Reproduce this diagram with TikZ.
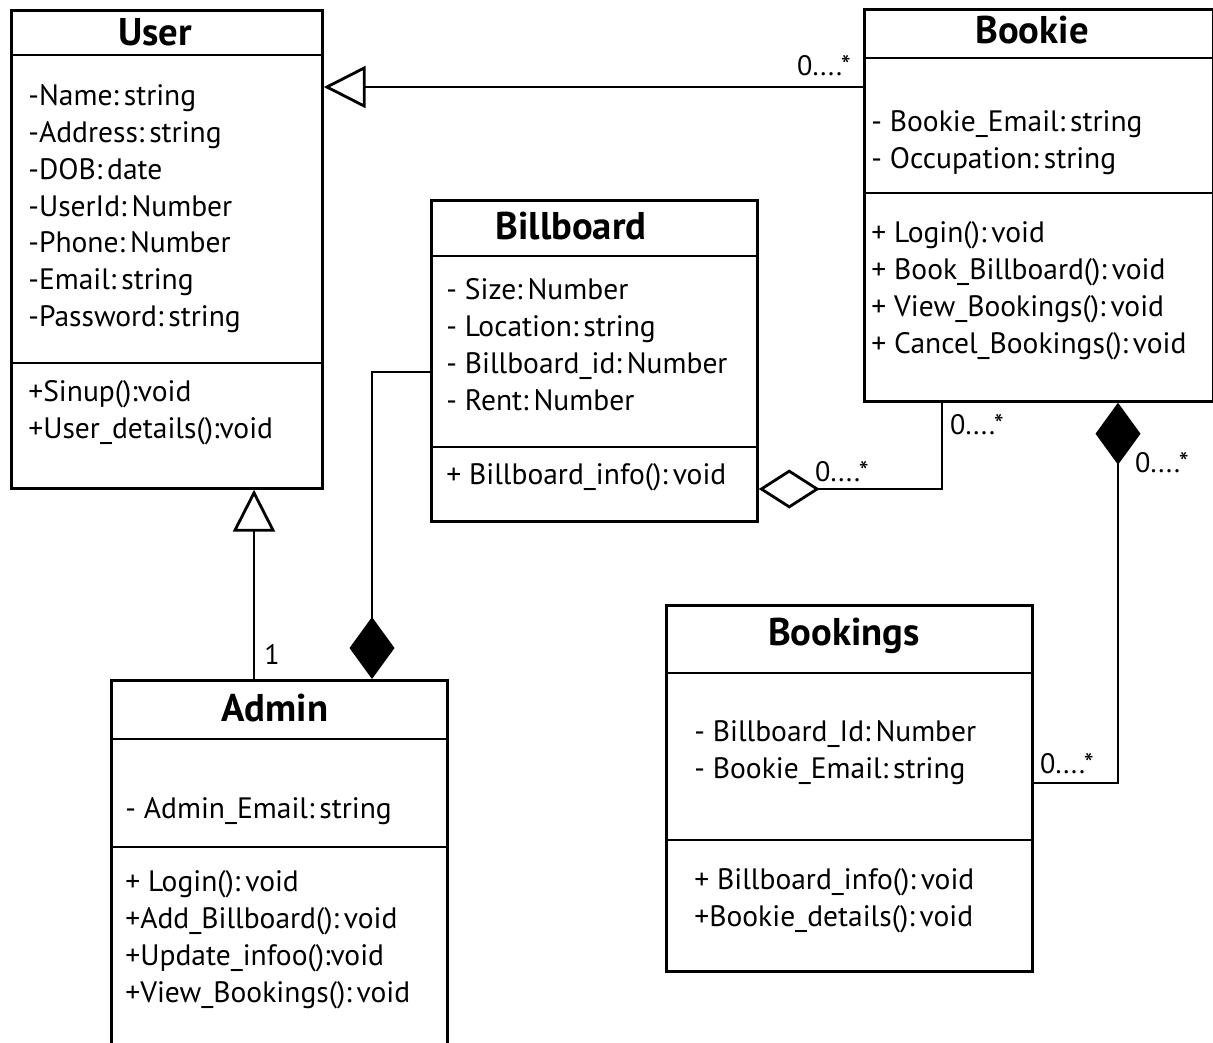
\documentclass[tikz,border=0pt]{standalone}
\usepackage{fontspec}
\setmainfont{PT Sans}
\usetikzlibrary{arrows.meta}

\begin{document}
\begin{tikzpicture}[x=0.02cm, y=-0.02cm, line width=1.6pt,
        classbox/.style={draw, rectangle, anchor=north west, inner sep=0pt},
        classname/.style={font=\fontsize{22}{24}\selectfont\bfseries, inner sep=0pt},
        members/.style={anchor=north west, align=left, inner sep=0pt, font=\fontsize{16.8}{21}\selectfont},
        mult/.style={font=\fontsize{16}{18}\selectfont, inner sep=0pt},
        gen/.style={-{Triangle[open, length=0.84cm, width=0.84cm]}},
        compo/.style={-{Diamond[length=1.24cm, width=0.9cm]}},
        aggr/.style={-{Diamond[open, length=1.22cm, width=0.78cm]}}]
    \useasboundingbox (0,0) rectangle (1213,1042);

    % User class
    \node[classbox, minimum width=6.22cm, minimum height=9.56cm] (user) at (10,9) {};
    \node[classname] (usertitle) at (155,32) {User};
    \draw (user.west |- 0,55) -- (user.east |- 0,55);
    \draw (user.west |- 0,363) -- (user.east |- 0,363);
    \node[members] (userattr) at (27,83) {-Name:\,string\\-Address:\,string\\-DOB:\,date\\-UserId:\,Number\\-Phone:\,Number\\-Email:\,string\\-Password:\,string};
    \node[members] (userops) at (27,379) {+Sinup():void\\+User\_details():void};

    % Bookie class
    \node[classbox, minimum width=6.98cm, minimum height=7.84cm] (bookie) at (863,8) {};
    \node[classname] (bookietitle) at (1032,30) {Bookie};
    \draw (bookie.west |- 0,58) -- (bookie.east |- 0,58);
    \draw (bookie.west |- 0,193) -- (bookie.east |- 0,193);
    \node[members] (bookieattr) at (870,109) {- Bookie\_Email:\,string\\- Occupation:\,string};
    \node[members] (bookieops) at (870,220) {+ Login():\,void\\+ Book\_Billboard():\,void\\+ View\_Bookings():\,void\\+ Cancel\_Bookings():\,void};

    % Billboard class
    \node[classbox, minimum width=6.52cm, minimum height=6.42cm] (billboard) at (430,199) {};
    \node[classname] (billboardtitle) at (571,226) {Billboard};
    \draw (billboard.west |- 0,256) -- (billboard.east |- 0,256);
    \draw (billboard.west |- 0,447) -- (billboard.east |- 0,447);
    \node[members] (billboardattr) at (445,277) {- Size:\,Number\\- Location:\,string\\- Billboard\_id:\,Number\\- Rent:\,Number};
    \node[members] (billboardops) at (445,462) {+ Billboard\_info():\,void};

    % Bookings class
    \node[classbox, minimum width=7.32cm, minimum height=7.32cm] (bookings) at (665,604) {};
    \node[classname] (bookingstitle) at (844,636) {Bookings};
    \draw (bookings.west |- 0,673) -- (bookings.east |- 0,673);
    \draw (bookings.west |- 0,840) -- (bookings.east |- 0,840);
    \node[members] (bookingsattr) at (693,719) {- Billboard\_Id:\,Number\\- Bookie\_Email:\,string};
    \node[members] (bookingsops) at (693,867) {+ Billboard\_info():\,void\\+Bookie\_details():\,void};

    % Admin class (runs past the lower edge)
    \node[classbox, minimum width=6.72cm, minimum height=8cm] (admin) at (110,679) {};
    \node[classname] (admintitle) at (275,708) {Admin};
    \draw (admin.west |- 0,739) -- (admin.east |- 0,739);
    \draw (admin.west |- 0,847) -- (admin.east |- 0,847);
    \node[members] (adminattr) at (124,796) {- Admin\_Email:\,string};
    \node[members] (adminops) at (124,869) {+ Login():\,void\\+Add\_Billboard():\,void\\+Update\_infoo():void\\+View\_Bookings():\,void};

    % generalisations
    \draw[gen] (bookie.west |- 0,87) -- (user.east |- 0,87);
    \node[mult] (m1) at (824,66) {0....*};
    \draw[gen] (admin.north -| 254,0) -- (user.south -| 254,0);
    \node[mult] (m2) at (272,654) {1};

    % Billboard - Admin composition
    \coordinate (bend1) at (372,372);
    \draw[compo] (billboard.west |- bend1) -- (bend1) -- (admin.north -| bend1);

    % Bookie - Billboard aggregation
    \coordinate (bend2) at (942,489);
    \draw[aggr] (bookie.south -| bend2) -- (bend2) -- (billboard.east |- bend2);
    \node[mult] (m3) at (842,472) {0....*};
    \node[mult] (m4) at (977,425) {0....*};

    % Bookie - Bookings composition
    \coordinate (bend3) at (1118,783);
    \draw[compo] (bookings.east |- bend3) -- (bend3) -- (bookie.south -| bend3);
    \node[mult] (m5) at (1162,463) {0....*};
    \node[mult] (m6) at (1067,764) {0....*};
\end{tikzpicture}
\end{document}
